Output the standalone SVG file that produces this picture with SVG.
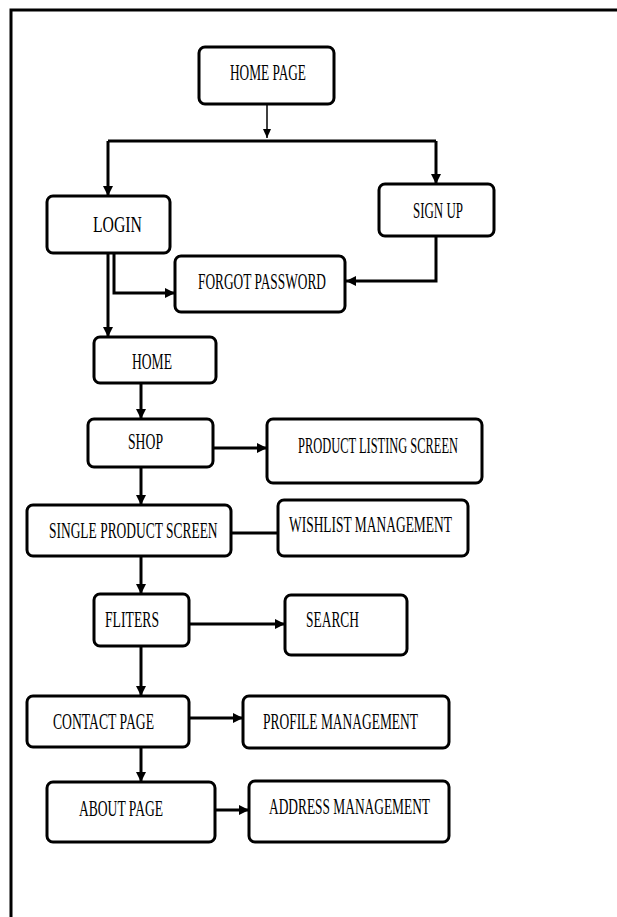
<svg xmlns="http://www.w3.org/2000/svg" width="617" height="917" viewBox="0 0 617 917">
<style>
.box{fill:#fff;stroke:#000;stroke-width:3;}
.lbl{font-family:"Liberation Serif","Times New Roman",serif;font-size:23px;fill:#000;}
.c{fill:none;stroke:#000;stroke-width:3;}
.thin{fill:none;stroke:#000;stroke-width:1.5;}
</style>
<defs>
<marker id="ah" markerUnits="userSpaceOnUse" markerWidth="11" markerHeight="10" refX="10" refY="5" orient="auto"><path d="M0,0 L10,5 L0,10 z" fill="#000"/></marker>
<marker id="ahs" markerUnits="userSpaceOnUse" markerWidth="10" markerHeight="8" refX="9" refY="4" orient="auto"><path d="M0,0 L9,4 L0,8 z" fill="#000"/></marker>
</defs>
<rect width="617" height="917" fill="#fff"/>
<path d="M11,917 V10 H617" fill="none" stroke="#000" stroke-width="3"/>
<g id="connectors">
<path class="thin" d="M267,104 V138" marker-end="url(#ahs)"/>
<path class="c" d="M108,141 H436"/>
<path class="c" d="M108,141 V196" marker-end="url(#ah)"/>
<path class="c" d="M436,141 V184" marker-end="url(#ah)"/>
<path class="c" d="M114,253 V293 H175" marker-end="url(#ah)"/>
<path class="c" d="M436,236 V281 H346" marker-end="url(#ah)"/>
<path class="c" d="M108,253 V337" marker-end="url(#ah)"/>
<path class="c" d="M141,383 V419" marker-end="url(#ah)"/>
<path class="c" d="M213,448 H267" marker-end="url(#ah)"/>
<path class="c" d="M141,467 V505" marker-end="url(#ah)"/>
<path class="c" d="M231,533 H278"/>
<path class="c" d="M141,556 V594" marker-end="url(#ah)"/>
<path class="c" d="M189,624 H285" marker-end="url(#ah)"/>
<path class="c" d="M141,646 V696" marker-end="url(#ah)"/>
<path class="c" d="M189,718 H243" marker-end="url(#ah)"/>
<path class="c" d="M141,747 V782" marker-end="url(#ah)"/>
<path class="c" d="M215,810 H249" marker-end="url(#ah)"/>
</g>
<g id="homepage"><rect class="box" x="199" y="47" width="135" height="57" rx="6"/><text class="lbl" x="230" y="80" textLength="76" lengthAdjust="spacingAndGlyphs">HOME PAGE</text></g>
<g id="login"><rect class="box" x="47" y="196" width="123" height="57" rx="6"/><text class="lbl" x="93" y="232" textLength="49" lengthAdjust="spacingAndGlyphs">LOGIN</text></g>
<g id="signup"><rect class="box" x="379" y="184" width="115" height="52" rx="6"/><text class="lbl" x="413" y="218" textLength="50" lengthAdjust="spacingAndGlyphs">SIGN UP</text></g>
<g id="forgot"><rect class="box" x="175" y="256" width="170" height="56" rx="6"/><text class="lbl" x="198" y="289" textLength="128" lengthAdjust="spacingAndGlyphs">FORGOT PASSWORD</text></g>
<g id="home"><rect class="box" x="94" y="337" width="122" height="46" rx="6"/><text class="lbl" x="132" y="369" textLength="40" lengthAdjust="spacingAndGlyphs">HOME</text></g>
<g id="shop"><rect class="box" x="88" y="419" width="125" height="48" rx="6"/><text class="lbl" x="128" y="449" textLength="35" lengthAdjust="spacingAndGlyphs">SHOP</text></g>
<g id="productlisting"><rect class="box" x="267" y="419" width="215" height="64" rx="6"/><text class="lbl" x="298" y="453" textLength="160" lengthAdjust="spacingAndGlyphs">PRODUCT LISTING SCREEN</text></g>
<g id="singleproduct"><rect class="box" x="27" y="505" width="204" height="51" rx="6"/><text class="lbl" transform="translate(49,538) scale(0.585,1)" x="0" y="0">SINGLE PRODUCT SCREEN</text></g>
<g id="wishlist"><rect class="box" x="278" y="500" width="190" height="56" rx="6"/><text class="lbl" transform="translate(289,532) scale(0.585,1)" x="0" y="0">WISHLIST MANAGEMENT</text></g>
<g id="fliters"><rect class="box" x="94" y="594" width="95" height="52" rx="6"/><text class="lbl" x="105" y="627" textLength="54" lengthAdjust="spacingAndGlyphs">FLITERS</text></g>
<g id="search"><rect class="box" x="285" y="595" width="122" height="60" rx="6"/><text class="lbl" x="306" y="627" textLength="53" lengthAdjust="spacingAndGlyphs">SEARCH</text></g>
<g id="contact"><rect class="box" x="27" y="696" width="162" height="51" rx="6"/><text class="lbl" x="53" y="729" textLength="101" lengthAdjust="spacingAndGlyphs">CONTACT PAGE</text></g>
<g id="profile"><rect class="box" x="243" y="696" width="206" height="52" rx="6"/><text class="lbl" x="263" y="729" textLength="155" lengthAdjust="spacingAndGlyphs">PROFILE MANAGEMENT</text></g>
<g id="about"><rect class="box" x="47" y="782" width="168" height="60" rx="6"/><text class="lbl" x="79" y="816" textLength="84" lengthAdjust="spacingAndGlyphs">ABOUT PAGE</text></g>
<g id="address"><rect class="box" x="249" y="781" width="200" height="61" rx="6"/><text class="lbl" x="269" y="814" textLength="161" lengthAdjust="spacingAndGlyphs">ADDRESS MANAGEMENT</text></g>
</svg>
